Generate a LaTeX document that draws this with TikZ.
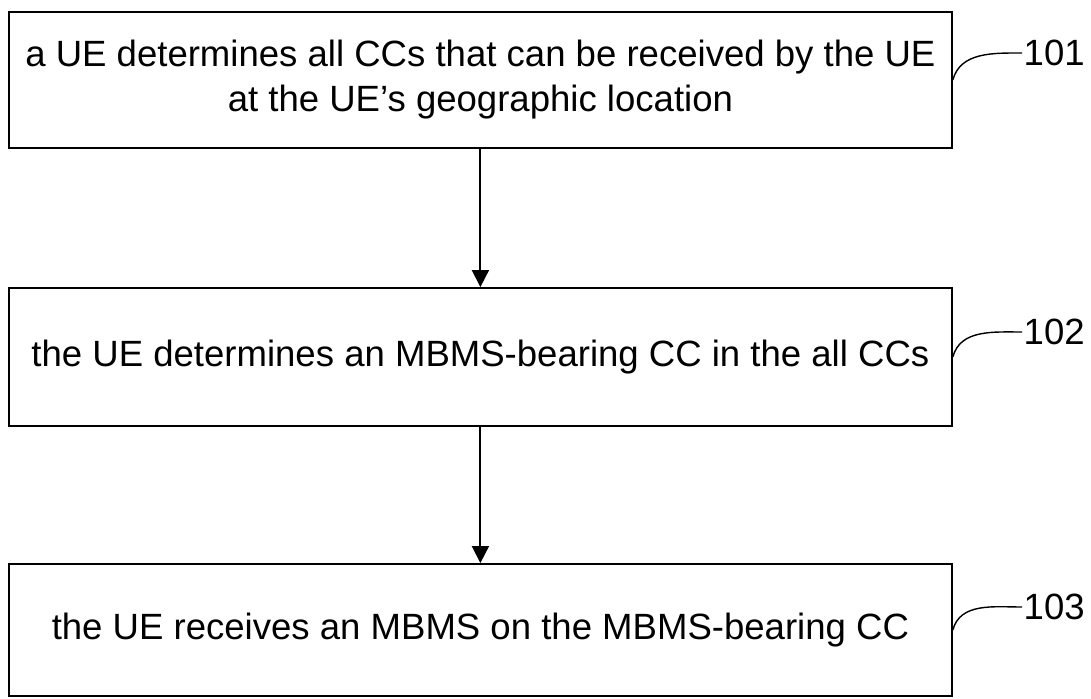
\documentclass[tikz,border=0pt]{standalone}
\usepackage{fontspec}
\setmainfont{Liberation Sans}
\usetikzlibrary{arrows.meta, positioning}

\begin{document}
\begin{tikzpicture}[>={Triangle[width=12pt, length=12pt]},
    stepbox/.style={draw, line width=1.3pt, align=center,
                    minimum width=23.575cm, font=\fontsize{26}{32}\selectfont},
    steplabel/.style={font=\fontsize{26}{32}\selectfont, inner sep=1pt, anchor=west}]
  \useasboundingbox (0,0) rectangle (27.275,17.45);

  % Step 101: determine all CCs
  \node[stepbox, minimum height=3.4cm] (s101) at (12.01, 15.45)
    {a UE determines all CCs that can be received by the UE\\at the UE’s geographic location};
  \node[steplabel] (l101) at (25.55, 16.125) {101};

  % Step 102: determine MBMS-bearing CC
  \node[stepbox, minimum height=3.45cm] (s102) at (12.01, 8.525)
    {the UE determines an MBMS-bearing CC in the all CCs};
  \node[steplabel] (l102) at (25.55, 9.15) {102};

  % Step 103: receive MBMS
  \node[stepbox, minimum height=3.3cm] (s103) at (12.01, 1.7)
    {the UE receives an MBMS on the MBMS-bearing CC};
  \node[steplabel] (l103) at (25.55, 2.275) {103};

  % flow arrows
  \draw[->, line width=1.3pt] (s101) -- (s102);
  \draw[->, line width=1.3pt] (s102) -- (s103);

  % label leaders
  \foreach \n in {101, 102, 103} {
    \draw[line width=1pt] (s\n.east) to[out=75, in=180] (l\n.west);
  }
\end{tikzpicture}
\end{document}
